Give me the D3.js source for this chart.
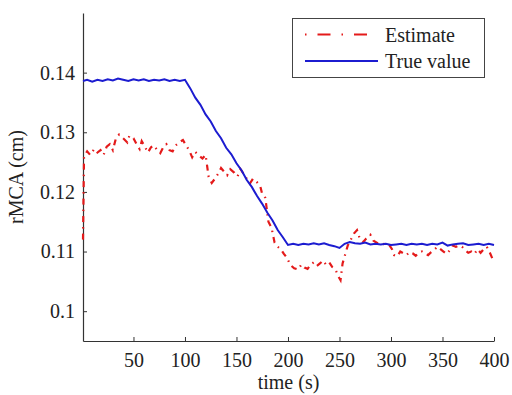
<!DOCTYPE html>
<html>
<head>
<meta charset="utf-8">
<script src="https://cdn.jsdelivr.net/npm/d3@7"></script>
<style>
  html, body { margin: 0; padding: 0; background: #fff; }
  svg text { font-family: "Liberation Serif", "DejaVu Serif", serif; fill: #222; }
</style>
</head>
<body>
<div id="chart"></div>
<script>
// True value (blue solid line)
const trueTime = [1, 5, 10, 15, 20, 25, 30, 35, 40, 45, 50, 55, 60, 65, 70, 75, 80, 85, 90, 95, 100,
    105, 110, 115, 120, 125, 130, 135, 140, 145, 150, 155, 160, 165, 170, 175, 180, 185, 190, 195, 200,
    205, 210, 215, 220, 225, 230, 235, 240, 245, 250, 255, 260, 265, 270, 275, 280, 285, 290, 295, 300,
    305, 310, 315, 320, 325, 330, 335, 340, 345, 350, 355, 360, 365, 370, 375, 380, 385, 390, 395, 400];
const trueValue = [0.1386, 0.1388, 0.1385, 0.1388, 0.1386, 0.1389, 0.1387, 0.1390, 0.1388, 0.1386, 0.1389,
    0.1387, 0.1389, 0.1386, 0.1388, 0.1387, 0.1389, 0.1386, 0.1388, 0.1386, 0.1388,
    0.1374, 0.1358, 0.1346, 0.1330, 0.1318, 0.1302, 0.1290, 0.1274, 0.1263, 0.1248,
    0.1236, 0.1220, 0.1208, 0.1193, 0.1180, 0.1165, 0.1152, 0.1136, 0.1124, 0.1111,
    0.1113, 0.1111, 0.1113, 0.1112, 0.1114, 0.1112, 0.1114, 0.1111, 0.1109, 0.1106,
    0.1113, 0.1116, 0.1114, 0.1113, 0.1115, 0.1112, 0.1113, 0.1112, 0.1113, 0.1111,
    0.1112, 0.1113, 0.1111, 0.1113, 0.1112, 0.1113, 0.1111, 0.1113, 0.1112, 0.1115,
    0.1110, 0.1112, 0.1113, 0.1114, 0.1111, 0.1112, 0.1113, 0.1111, 0.1113, 0.1111];

// Estimate (red dash-dot line)
const estTime = [1, 2, 5, 8, 12, 15, 18, 21, 24, 27, 30, 33, 36, 40, 44, 46, 50, 53, 56, 58, 61, 64, 67,
    70, 73, 76, 79, 82, 85, 88, 91, 95, 98, 101, 104, 107, 110, 113, 117, 120, 123, 126, 129, 132, 135,
    138, 141, 144, 148, 151, 154, 157, 160, 163, 166, 170, 173, 175, 178, 181, 184, 187, 190, 193, 196,
    199, 202, 206, 210, 213, 216, 219, 222, 225, 228, 231, 234, 237, 240, 243, 246, 249, 251, 253, 256,
    258, 261, 264, 267, 270, 273, 276, 280, 283, 287, 290, 294, 298, 301, 303, 306, 309, 312, 315, 318,
    321, 324, 327, 330, 333, 336, 339, 342, 345, 348, 351, 354, 357, 360, 363, 366, 369, 372, 375, 378,
    381, 384, 387, 390, 393, 396, 399, 400];
const estValue = [0.1120, 0.1260, 0.1268, 0.1262, 0.1272, 0.1266, 0.1270, 0.1262, 0.1276, 0.1280, 0.1270,
    0.1290, 0.1296, 0.1290, 0.1283, 0.1294, 0.1290, 0.1280, 0.1272, 0.1285, 0.1276, 0.1266, 0.1275,
    0.1278, 0.1270, 0.1265, 0.1275, 0.1280, 0.1270, 0.1268, 0.1278, 0.1284, 0.1287, 0.1278, 0.1270,
    0.1258, 0.1267, 0.1262, 0.1256, 0.1262, 0.1225, 0.1215, 0.1222, 0.1230, 0.1240, 0.1234, 0.1228,
    0.1238, 0.1232, 0.1226, 0.1238, 0.1230, 0.1222, 0.1214, 0.1222, 0.1216, 0.1210, 0.1196, 0.1190,
    0.1150, 0.1140, 0.1115, 0.1108, 0.1104, 0.1096, 0.1090, 0.1078, 0.1072, 0.1070, 0.1078, 0.1073,
    0.1071, 0.1078, 0.1082, 0.1076, 0.1080, 0.1085, 0.1078, 0.1082, 0.1074, 0.1070, 0.1058, 0.1052,
    0.1080, 0.1098, 0.1110, 0.1120, 0.1130, 0.1136, 0.1120, 0.1116, 0.1122, 0.1128, 0.1118, 0.1114,
    0.1112, 0.1113, 0.1112, 0.1104, 0.1094, 0.1092, 0.1100, 0.1097, 0.1094, 0.1099, 0.1097, 0.1093,
    0.1098, 0.1100, 0.1096, 0.1094, 0.1099, 0.1103, 0.1108, 0.1104, 0.1100, 0.1096, 0.1102, 0.1110,
    0.1108, 0.1110, 0.1108, 0.1102, 0.1098, 0.1100, 0.1096, 0.1104, 0.1098, 0.1104, 0.1108, 0.1098,
    0.1086, 0.1082];

const xTicks = [50, 100, 150, 200, 250, 300, 350, 400];
const yTicks = [0.10, 0.11, 0.12, 0.13, 0.14];
const legendLabels = ['Estimate', 'True value'];

const width = 512;
const height = 395;
const margin = { top: 13, right: 18, bottom: 54, left: 83 };

const svg = d3.select('#chart')
    .append('svg')
    .attr('width', width)
    .attr('height', height);

// Scales
const x = d3.scaleLinear().domain([1, 400]).range([margin.left, width - margin.right]);
const y = d3.scaleLinear().domain([0.095, 0.15]).range([height - margin.bottom, margin.top]);

const axisColor = '#333';

// Axes (ticks pointing inward, no box)
const xAxis = svg.append('g')
    .attr('transform', `translate(0,${height - margin.bottom})`)
    .call(d3.axisBottom(x).tickValues(xTicks).tickSizeInner(-4).tickSizeOuter(0).tickPadding(12)
        .tickFormat(d3.format('d')));

const yAxis = svg.append('g')
    .attr('transform', `translate(${margin.left},0)`)
    .call(d3.axisLeft(y).tickValues(yTicks).tickSizeInner(-4).tickSizeOuter(0).tickPadding(8)
        .tickFormat(d => d === 0.1 ? '0.1' : d3.format('.2f')(d)));

[xAxis, yAxis].forEach(g => {
    g.select('.domain').attr('stroke', axisColor).attr('stroke-width', 1.2);
    g.selectAll('.tick line').attr('stroke', axisColor);
    g.selectAll('.tick text')
        .style('font-family', '"Liberation Serif", serif')
        .style('font-size', '20px')
        .attr('fill', '#222');
});

// Axis labels
svg.append('text')
    .attr('x', x(200.5))
    .attr('y', 389)
    .attr('text-anchor', 'middle')
    .style('font-size', '20px')
    .text('time (s)');

svg.append('text')
    .attr('transform', `translate(23,${(margin.top + height - margin.bottom) / 2}) rotate(-90)`)
    .attr('text-anchor', 'middle')
    .style('font-size', '20px')
    .text('rMCA (cm)');

// Lines
const estData = estTime.map((t, i) => [t, estValue[i]]);
const trueData = trueTime.map((t, i) => [t, trueValue[i]]);

const line = d3.line().x(d => x(d[0])).y(d => y(d[1]));

const red = '#e41a1a';
const blue = '#1c1cd0';

svg.append('path')
    .datum(estData)
    .attr('d', line)
    .attr('fill', 'none')
    .attr('stroke', red)
    .attr('stroke-width', 2.2)
    .attr('stroke-dasharray', '6,5,1.5,5');

svg.append('path')
    .datum(trueData)
    .attr('d', line)
    .attr('fill', 'none')
    .attr('stroke', blue)
    .attr('stroke-width', 2);

// Legend
const legend = svg.append('g');
legend.append('rect')
    .attr('x', 292.5)
    .attr('y', 18.5)
    .attr('width', 192)
    .attr('height', 59)
    .attr('fill', '#fff')
    .attr('stroke', '#444')
    .attr('stroke-width', 1);

legend.append('line')
    .attr('x1', 305).attr('x2', 378)
    .attr('y1', 34.5).attr('y2', 34.5)
    .attr('stroke', red)
    .attr('stroke-width', 2.2)
    .attr('stroke-dasharray', '1.5,11,13,11');

legend.append('line')
    .attr('x1', 305).attr('x2', 378)
    .attr('y1', 61).attr('y2', 61)
    .attr('stroke', blue)
    .attr('stroke-width', 2);

legend.selectAll('text.label')
    .data(legendLabels)
    .enter()
    .append('text')
    .attr('class', 'label')
    .attr('x', 385)
    .attr('y', (d, i) => 42 + i * 26)
    .style('font-size', '20px')
    .text(d => d);
</script>
</body>
</html>
